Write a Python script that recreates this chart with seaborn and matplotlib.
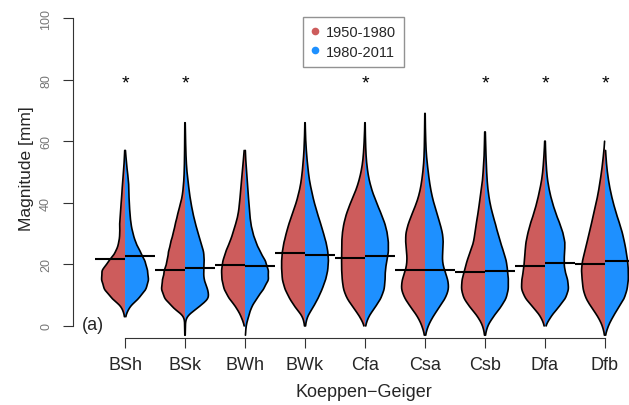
import numpy as np
import pandas as pd
import matplotlib
matplotlib.use("Agg")
import matplotlib.pyplot as plt
import seaborn as sns
from matplotlib.lines import Line2D

categories = ["BSh", "BSk", "BWh", "BWk", "Cfa", "Csa", "Csb", "Dfa", "Dfb"]
periods = ["1950-1980", "1980-2011"]
levels = list(range(-3, 73, 3))  # magnitude levels [mm]: -3, 0, 3, ..., 72

# relative density (violin half-width) at each level
bsh_1950 = [0, 0, 0.3, 2.7, 13, 20.7, 23, 23, 16, 9, 6, 5, 5.3, 4.7, 4, 3.3, 2.7, 2, 1.3, 0.7, 0.3, 0, 0, 0, 0, 0]
bsh_1980 = [0, 0, 0.3, 3.3, 11.7, 18, 20, 19, 17, 13, 9, 6.7, 5, 4.3, 3.7, 3.3, 3.3, 2.7, 1.7, 1, 0.3, 0, 0, 0, 0, 0]
bsk_1950 = [0.2, 0.3, 0.5, 11.7, 20, 23, 21.7, 20, 17.3, 16, 14, 11.5, 9.5, 7.3, 5, 2.7, 1.7, 1, 0.7, 0.5, 0.4, 0.3, 0.3, 0.2, 0, 0]
bsk_1980 = [0.2, 0.3, 0.5, 11.7, 22, 20, 16.5, 16.5, 17, 16.7, 14, 11.7, 9.3, 7.3, 5.7, 4.3, 3.3, 2.3, 1.5, 1, 0.7, 0.5, 0.3, 0.2, 0, 0]
bwh_1950 = [0, 0.3, 3, 7, 13.3, 17.3, 19, 19.3, 18.3, 16, 12.7, 10, 7.7, 5.7, 4.7, 4, 3.3, 2.7, 2, 1.3, 0.7, 0, 0, 0, 0, 0]
bwh_1980 = [0.4, 1, 3.3, 6, 11.7, 18, 23, 22.7, 20, 15, 10.7, 7.7, 5.7, 4.7, 4, 3.3, 2.7, 2, 1.3, 0.7, 0.3, 0, 0, 0, 0, 0]
bwk_1950 = [0, 0.3, 2, 10, 16, 20.7, 23.3, 24, 24, 23.3, 21.7, 19.3, 16.7, 13.3, 10, 7.3, 5, 3.5, 2.5, 1.7, 1, 0.7, 0.3, 0.2, 0, 0]
bwk_1980 = [0, 0.3, 2, 8, 13, 17, 20.5, 22.5, 23.3, 22.7, 21, 18.3, 15.7, 12.7, 10, 7.7, 5.7, 4, 3, 2, 1.3, 0.7, 0.4, 0.2, 0, 0]
cfa_1950 = [0, 0.3, 5, 11.7, 18.3, 21.7, 22.7, 23.3, 23.3, 23.3, 23.3, 22.7, 21.3, 19, 15.7, 11.7, 8, 5.3, 3.3, 2, 1.3, 0.8, 0.4, 0.2, 0, 0]
cfa_1980 = [0, 0.3, 3.3, 10, 16, 19.3, 20, 20, 21.7, 23.3, 23.3, 22.3, 20, 16.7, 12.7, 9, 6, 3.7, 2.3, 1.3, 0.8, 0.5, 0.3, 0.2, 0, 0]
csa_1950 = [0.2, 2.7, 6.7, 13.3, 19.3, 22.7, 21.7, 18.3, 16.7, 17.3, 18.3, 18.3, 16, 12.7, 9, 6, 4, 2.7, 1.7, 1, 0.7, 0.5, 0.4, 0.3, 0.2, 0]
csa_1980 = [0.2, 2.7, 7.3, 13.3, 19.3, 22.7, 21.7, 18.3, 16, 16.7, 17.3, 16.7, 14.3, 11.7, 9, 6.7, 5, 3.7, 2.7, 1.7, 1, 0.7, 0.4, 0.3, 0.2, 0]
csb_1950 = [0.2, 2, 7, 15, 21.7, 24, 23.3, 20.7, 18.3, 15, 11.5, 10.3, 9, 7.3, 6, 4.7, 3.3, 2.3, 1.7, 1, 0.7, 0.5, 0.3, 0, 0, 0]
csb_1980 = [0.2, 2, 7, 13.3, 18.3, 20, 20, 19.3, 18.3, 16, 13.3, 11, 9, 6.7, 4.7, 3.3, 2.3, 1.7, 1.3, 1, 0.7, 0.5, 0.3, 0, 0, 0]
dfa_1950 = [0, 0.3, 4, 11.7, 20, 24, 23.3, 21.7, 20.7, 20, 19.3, 17.3, 15, 11.7, 9, 6.7, 4.7, 3, 2, 1.3, 0.7, 0.3, 0, 0, 0, 0]
dfa_1980 = [0, 0.3, 5, 11.7, 18.3, 21, 20, 17.3, 16.7, 17.3, 17.7, 16, 13.3, 10, 7.3, 5, 3.3, 2, 1.3, 0.8, 0.5, 0.3, 0, 0, 0, 0]
dfb_1950 = [0.2, 2.3, 6.7, 13.3, 19, 21.7, 22.3, 23.3, 22.3, 20, 17.7, 15.7, 13.3, 11.7, 9.3, 7.3, 5.7, 4.3, 3, 2, 1, 0.3, 0, 0, 0, 0]
dfb_1980 = [0.2, 2.7, 6.7, 11.7, 16.7, 19, 20, 20, 19.3, 18.3, 16.7, 15, 12.7, 10, 7.7, 5.7, 4, 2.7, 1.7, 1, 0.5, 0, 0, 0, 0, 0]

median_1950 = [21.8, 18.2, 19.8, 23.6, 22.0, 18.2, 17.6, 19.6, 20.1]
median_1980 = [22.6, 18.7, 19.5, 23.0, 22.7, 18.2, 18.0, 20.3, 21.0]
significant = ["BSh", "BSk", "Cfa", "Csb", "Dfa", "Dfb"]

colors = {"1950-1980": "indianred", "1980-2011": "dodgerblue"}

profiles = {
    "BSh": (bsh_1950, bsh_1980), "BSk": (bsk_1950, bsk_1980),
    "BWh": (bwh_1950, bwh_1980), "BWk": (bwk_1950, bwk_1980),
    "Cfa": (cfa_1950, cfa_1980), "Csa": (csa_1950, csa_1980),
    "Csb": (csb_1950, csb_1980), "Dfa": (dfa_1950, dfa_1980),
    "Dfb": (dfb_1950, dfb_1980),
}

frames = []
for cat in categories:
    for per, prof in zip(periods, profiles[cat]):
        counts = np.round(np.array(prof) * 10).astype(int)
        vals = np.repeat(levels, counts)
        frames.append(pd.DataFrame({"zone": cat, "period": per, "mag": vals}))
df = pd.concat(frames, ignore_index=True)

sns.set_style("ticks")
plt.rcParams["font.family"] = ["Liberation Sans", "DejaVu Sans"]

fig = plt.figure(figsize=(6.29, 4.06), dpi=100)
ax = fig.add_axes([73 / 629, 1 - 339.3 / 406, 584 / 629, 332.6 / 406])

sns.violinplot(data=df, x="zone", y="mag", hue="period", order=categories,
               hue_order=periods, split=True, inner=None, palette=colors,
               saturation=1, density_norm="width", common_norm=False, cut=0,
               bw_method=0.15, gridsize=300, width=0.78, linewidth=0,
               legend=False, ax=ax)

# outline only the outer curve of each half (no divider line between halves)
for coll in list(ax.collections):
    coll.set_edgecolor("none")
    for path in coll.get_paths():
        v = path.vertices
        c = np.round(v[:, 0].mean())
        m = np.abs(v[:, 0] - c) > 1e-9
        cur = v[m]
        cur = cur[np.argsort(cur[:, 1])]
        ax.plot(cur[:, 0], cur[:, 1], color="black", lw=1.2, zorder=3,
                solid_capstyle="round")

xs = np.arange(len(categories))
ax.hlines(median_1950, xs - 0.5, xs, color="black", lw=1.5, zorder=5)
ax.hlines(median_1980, xs, xs + 0.5, color="black", lw=1.5, zorder=5)

for cat in significant:
    ax.text(categories.index(cat), 77.3, "*", ha="center", va="baseline",
            fontsize=14, color="black")

ax.text(-0.72, 0.5, "(a)", ha="left", va="center", fontsize=13)

ax.set_xlim(-0.867, 8.867)
ax.set_ylim(-4, 104)
sns.despine(ax=ax)
ax.spines["left"].set_bounds(0, 100)
ax.spines["bottom"].set_bounds(0, 8)
for s in ("left", "bottom"):
    ax.spines[s].set_linewidth(0.8)
    ax.spines[s].set_color("#333333")

ax.set_yticks([0, 20, 40, 60, 80, 100])
ax.set_yticklabels(["0", "20", "40", "60", "80", "100"], rotation=90,
                   va="center", fontsize=9, color="#777777")
ax.set_xticks(xs)
ax.set_xticklabels(categories, fontsize=13)
ax.tick_params(axis="both", direction="out", length=7, width=0.8, color="#333333")
ax.tick_params(axis="x", pad=6)
ax.tick_params(axis="y", pad=8)
ax.set_xlabel("")
ax.set_ylabel("")

fig.text(27 / 629, 1 - 168.5 / 406, "Magnitude [mm]", rotation=90,
         ha="center", va="center", fontsize=12.5)
fig.text(364 / 629, 1 - 393 / 406, "Koeppen\u2212Geiger", ha="center",
         va="center", fontsize=13)

handles = [Line2D([0], [0], marker="o", color="none", markerfacecolor=colors[p],
                  markeredgecolor="none", markersize=5.5, label=p) for p in periods]
leg = ax.legend(handles=handles, loc="upper center", bbox_to_anchor=(0.48, 0.966),
                fontsize=10.5, frameon=True, fancybox=False, handlelength=0.6,
                handletextpad=0.4, labelspacing=0.38, borderpad=0.55,
                borderaxespad=0)
leg.get_frame().set_edgecolor("#777777")
leg.get_frame().set_linewidth(1.0)

fig.savefig("out.png", dpi=100)
